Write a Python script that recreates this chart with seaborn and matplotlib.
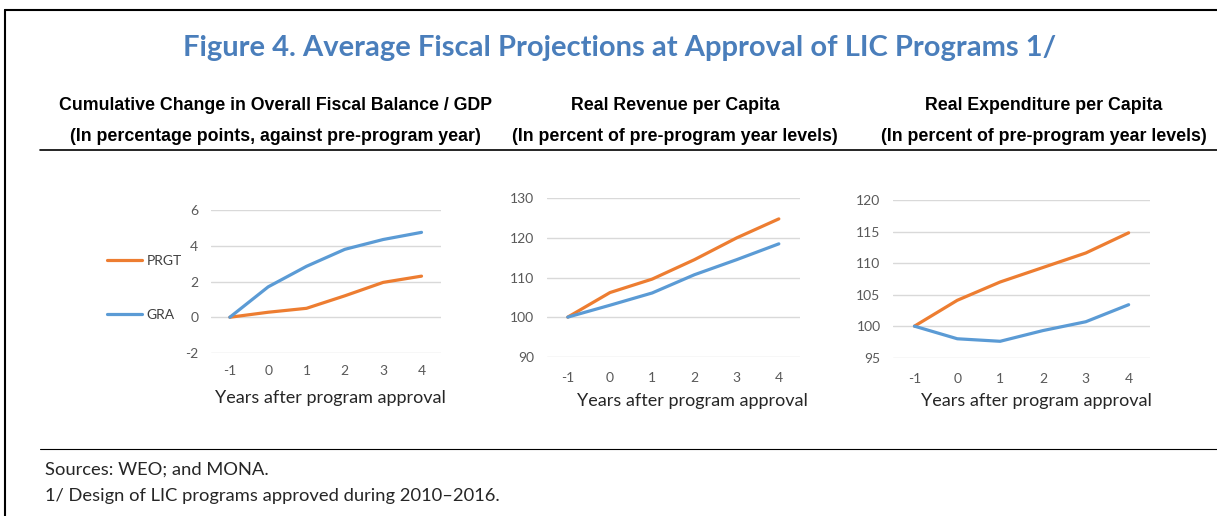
# Figure 4. Average Fiscal Projections at Approval of LIC Programs
import pandas as pd
import matplotlib.pyplot as plt
import seaborn as sns
from matplotlib.lines import Line2D

# Data
years = [-1, 0, 1, 2, 3, 4]
balance_prgt = [0, 0.28, 0.5, 1.2, 1.95, 2.3]
balance_gra = [0, 1.7, 2.85, 3.8, 4.35, 4.75]
revenue_prgt = [100, 106.2, 109.6, 114.5, 120.0, 124.8]
revenue_gra = [100, 103.0, 106.1, 110.7, 114.5, 118.5]
spending_prgt = [100, 104.1, 107.0, 109.3, 111.6, 114.8]
spending_gra = [100, 98.0, 97.6, 99.3, 100.7, 103.4]

orange = '#ED7D31'
blue = '#5B9BD5'
palette = {'PRGT': orange, 'GRA': blue}

sns.set_theme(style='white')
plt.rcParams['font.family'] = ['Lato', 'DejaVu Sans']
plt.rcParams['axes.unicode_minus'] = False

fig = plt.figure(figsize=(12.17, 5.16), dpi=100)

def long_df(prgt, gra):
    return pd.DataFrame({
        'year': years * 2,
        'value': prgt + gra,
        'series': ['PRGT'] * len(years) + ['GRA'] * len(years),
    })

panels = [
    ([0.1731, 0.3159, 0.189, 0.2771], balance_prgt, balance_gra, (-2, 6), [-2, 0, 2, 4, 6], 9),
    ([0.4492, 0.3087, 0.2081, 0.307], revenue_prgt, revenue_gra, (90, 130), [90, 100, 110, 120, 130], 11),
    ([0.7338, 0.3068, 0.2112, 0.3056], spending_prgt, spending_gra, (95, 120), [95, 100, 105, 110, 115, 120], 11),
]

axes = []
for rect, prgt, gra, ylim, yticks, xpad in panels:
    ax = fig.add_axes(rect)
    sns.lineplot(data=long_df(prgt, gra), x='year', y='value', hue='series',
                 palette=palette, linewidth=2.3, ax=ax, legend=False)
    ax.set_xlim(-1.5, 4.5)
    ax.set_ylim(*ylim)
    ax.set_yticks(yticks)
    ax.set_xticks(years)
    ax.set_xticklabels([str(y) for y in years])
    ax.grid(axis='y', color='#D9D9D9', linewidth=1)
    ax.set_axisbelow(True)
    for s in ax.spines.values():
        s.set_visible(False)
    ax.tick_params(axis='both', length=0, labelsize=10, labelcolor='#595959')
    ax.tick_params(axis='y', pad=9)
    ax.tick_params(axis='x', pad=xpad)
    ax.set_xlabel('')
    ax.set_ylabel('')
    axes.append(ax)

# legend on the left of the first panel
handles = [Line2D([], [], color=orange, linewidth=2.3, label='PRGT'),
           Line2D([], [], color=blue, linewidth=2.3, label='GRA')]
fig.legend(handles=handles, loc='center left', bbox_to_anchor=(0.078, 0.442),
           frameon=False, fontsize=10, labelcolor='#404040', handlelength=2.5,
           handletextpad=0.3, labelspacing=3.0)

# x labels
for x, y in [(0.2712, 0.2287), (0.5686, 0.2229), (0.852, 0.2229)]:
    fig.text(x, y, 'Years after program approval', ha='center', va='center',
             fontsize=13, color='#262626')

# titles
fig.text(0.5095, 0.907, 'Figure 4. Average Fiscal Projections at Approval of LIC Programs 1/',
         ha='center', va='center', fontsize=21, fontweight='bold', color='#4A7EBB')
subtitles = [
    (0.226, 'Cumulative Change in Overall Fiscal Balance / GDP',
     '(In percentage points, against pre-program year)'),
    (0.5547, 'Real Revenue per Capita', '(In percent of pre-program year levels)'),
    (0.8574, 'Real Expenditure per Capita', '(In percent of pre-program year levels)'),
]
for x, line1, line2 in subtitles:
    fig.text(x, 0.7965, line1, ha='center', va='center', fontsize=12.8,
             fontweight='bold', family='Liberation Sans', color='black')
    fig.text(x, 0.7345, line2, ha='center', va='center', fontsize=12.8,
             fontweight='bold', family='Liberation Sans', color='black')

# rules and frame
fig.add_artist(Line2D([0.033, 1.0], [0.7093, 0.7093], color='black', linewidth=1.2))
fig.add_artist(Line2D([0.033, 1.0], [0.1298, 0.1298], color='black', linewidth=0.8))
fig.add_artist(Line2D([0.0037, 0.0037], [0.0, 0.981], color='black', linewidth=1.5))
fig.add_artist(Line2D([0.0037, 1.0], [0.981, 0.981], color='black', linewidth=1.5))

# notes
fig.text(0.037, 0.089, 'Sources: WEO; and MONA.', ha='left', va='center',
         fontsize=13.2, color='#262626')
fig.text(0.037, 0.039, '1/ Design of LIC programs approved during 2010\u20132016.',
         ha='left', va='center', fontsize=13.2, color='#262626')

fig.savefig('out.png', dpi=100, facecolor='white')
